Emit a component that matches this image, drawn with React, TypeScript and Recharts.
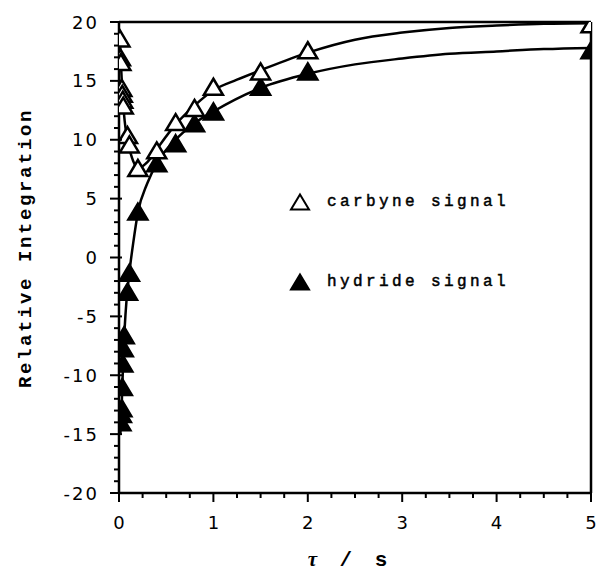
import React from 'react';
import { ComposedChart, Line, Scatter, XAxis, YAxis, ReferenceLine } from 'recharts';

// measured points (tau in s, relative integration)
const carbyneTau = [0.01, 0.015, 0.02, 0.03, 0.035, 0.04, 0.045, 0.09, 0.11, 0.2, 0.4, 0.6, 0.8, 1.0, 1.5, 2, 5];
const carbyneVal = [18.6, 17.0, 16.6, 14.4, 13.9, 13.4, 12.9, 10.4, 9.6, 7.6, 9.1, 11.5, 12.7, 14.5, 15.8, 17.6, 19.8];

const hydrideTau = [0.02, 0.025, 0.03, 0.035, 0.04, 0.045, 0.055, 0.09, 0.11, 0.2, 0.4, 0.6, 0.8, 1.0, 1.5, 2, 5];
const hydrideVal = [-14.0, -13.3, -12.8, -11.0, -9.0, -7.7, -6.6, -2.9, -1.3, 3.9, 8.0, 9.7, 11.4, 12.4, 14.5, 15.8, 17.6];

// fitted curves
const carbyneFitTau = [0.005, 0.01, 0.02, 0.03, 0.04, 0.06, 0.08, 0.1, 0.15, 0.2, 0.3, 0.4, 0.6, 0.8, 1.0, 1.25, 1.5, 2, 2.5, 3, 3.5, 4, 4.5, 5];
const carbyneFitVal = [19.2, 18.4, 16.6, 14.9, 13.5, 11.6, 10.4, 9.6, 8.2, 7.6, 8.1, 9.2, 11.3, 12.9, 14.2, 15.1, 15.9, 17.4, 18.5, 19.1, 19.5, 19.7, 19.85, 19.9];

const hydrideFitTau = [0.015, 0.02, 0.03, 0.04, 0.05, 0.06, 0.08, 0.1, 0.12, 0.15, 0.2, 0.3, 0.4, 0.6, 0.8, 1.0, 1.5, 2, 2.5, 3, 3.5, 4, 4.5, 5];
const hydrideFitVal = [-15.0, -14.0, -12.2, -9.8, -7.6, -6.0, -3.6, -2.0, -0.6, 1.2, 3.8, 6.3, 8.0, 10.0, 11.4, 12.4, 14.4, 15.6, 16.4, 16.9, 17.3, 17.5, 17.7, 17.8];

const xMajor = [0, 1, 2, 3, 4, 5];
const yMajor = [-20, -15, -10, -5, 0, 5, 10, 15, 20];
const xTicks = Array.from({ length: 21 }, (_, i) => i * 0.25);
const yTicks = Array.from({ length: 41 }, (_, i) => i - 20);

const legendItems = [
  { label: 'carbyne signal', filled: false },
  { label: 'hydride signal', filled: true },
];

const zip = (t: number[], v: number[]) => t.map((tau, i) => ({ tau, v: v[i] }));
const carbyne = zip(carbyneTau, carbyneVal);
const hydride = zip(hydrideTau, hydrideVal);
const carbyneFit = zip(carbyneFitTau, carbyneFitVal);
const hydrideFit = zip(hydrideFitTau, hydrideFitVal);

const triPoints = (cx: number, cy: number, w: number, h: number) =>
  `${cx},${cy - h / 2} ${cx + w / 2},${cy + h / 2} ${cx - w / 2},${cy + h / 2}`;

const makeTri = (filled: boolean) => (props: any) => {
  const { cx, cy } = props;
  if (cx == null || cy == null) return <g />;
  return (
    <polygon
      points={triPoints(cx, cy, 19, 16)}
      fill={filled ? '#000' : '#fff'}
      stroke="#000"
      strokeWidth={2.5}
      strokeLinejoin="miter"
    />
  );
};

const tickFont = { fontFamily: '"DejaVu Sans", sans-serif', fontSize: 18, letterSpacing: 2 };

const XTick = (props: any) => {
  const { x, y, payload } = props;
  const major = xMajor.includes(payload.value);
  return (
    <g>
      <line x1={x} x2={x} y1={y} y2={y + (major ? 9 : 5)} stroke="#000" strokeWidth={2} />
      {major && (
        <text x={x + 1} y={y + 36} textAnchor="middle" fill="#000" style={tickFont}>
          {payload.value}
        </text>
      )}
    </g>
  );
};

const YTick = (props: any) => {
  const { x, y, payload } = props;
  const major = yMajor.includes(payload.value);
  return (
    <g>
      <line x1={x - (major ? 9 : 5)} x2={x + (major ? 3 : 0)} y1={y} y2={y} stroke="#000" strokeWidth={2} />
      {major && (
        <text x={x - 20} y={y + 6.5} textAnchor="end" fill="#000" style={tickFont}>
          {payload.value}
        </text>
      )}
    </g>
  );
};

const LegendBox = () => (
  <div
    style={{
      position: 'absolute',
      left: 289,
      top: 189,
      fontFamily: '"Liberation Mono", monospace',
      fontSize: 16,
      letterSpacing: 3.4,
      color: '#000',
      WebkitTextStroke: '0.5px #000',
    }}
  >
    {legendItems.map((it, i) => (
      <div key={it.label} style={{ display: 'flex', alignItems: 'center', height: 26, marginBottom: i === 0 ? 54 : 0 }}>
        <svg width={24} height={22} style={{ marginRight: 14 }}>
          <polygon points={triPoints(11, 11, 18, 15)} fill={it.filled ? '#000' : '#fff'} stroke="#000" strokeWidth={2} />
        </svg>
        <span>{it.label}</span>
      </div>
    ))}
  </div>
);

export default function App() {
  return (
    <div style={{ position: 'absolute', left: 0, top: 0, width: 605, height: 573, background: '#fff' }}>
      <ComposedChart width={605} height={573} margin={{ top: 22, right: 14, bottom: 50, left: 59 }}>
        <XAxis
          type="number"
          dataKey="tau"
          domain={[0, 5]}
          ticks={xTicks}
          interval={0}
          tickSize={0}
          tickMargin={0}
          tick={<XTick />}
          tickLine={false}
          axisLine={{ stroke: '#000', strokeWidth: 2.5 }}
          height={30}
          allowDataOverflow
        />
        <YAxis
          type="number"
          dataKey="v"
          domain={[-20, 20]}
          ticks={yTicks}
          interval={0}
          tickSize={0}
          tickMargin={0}
          tick={<YTick />}
          tickLine={false}
          axisLine={{ stroke: '#000', strokeWidth: 2.5 }}
          width={60}
          allowDataOverflow
        />
        <ReferenceLine y={20} stroke="#000" strokeWidth={2.5} />
        <ReferenceLine x={5} stroke="#000" strokeWidth={2.5} />
        <Line data={carbyneFit} dataKey="v" type="monotone" stroke="#000" strokeWidth={2.5} dot={false} isAnimationActive={false} />
        <Line data={hydrideFit} dataKey="v" type="monotone" stroke="#000" strokeWidth={2.5} dot={false} isAnimationActive={false} />
        <Scatter data={hydride} dataKey="v" name="hydride signal" shape={makeTri(true)} isAnimationActive={false} />
        <Scatter data={carbyne} dataKey="v" name="carbyne signal" shape={makeTri(false)} isAnimationActive={false} />
        <text
          transform="translate(31,248) rotate(-90)"
          textAnchor="middle"
          fill="#000"
          style={{ fontFamily: '"Liberation Mono", monospace', fontWeight: 'bold', fontSize: 19, letterSpacing: 2.6 }}
        >
          Relative Integration
        </text>
        <text
          x={350}
          y={566}
          textAnchor="middle"
          fill="#000"
          style={{ fontFamily: '"Liberation Mono", monospace', fontWeight: 'bold', fontSize: 21, letterSpacing: 5 }}
        >
          <tspan fontStyle="italic" fontFamily='"Liberation Serif", serif'>τ</tspan> / s
        </text>
      </ComposedChart>
      <LegendBox />
    </div>
  );
}
